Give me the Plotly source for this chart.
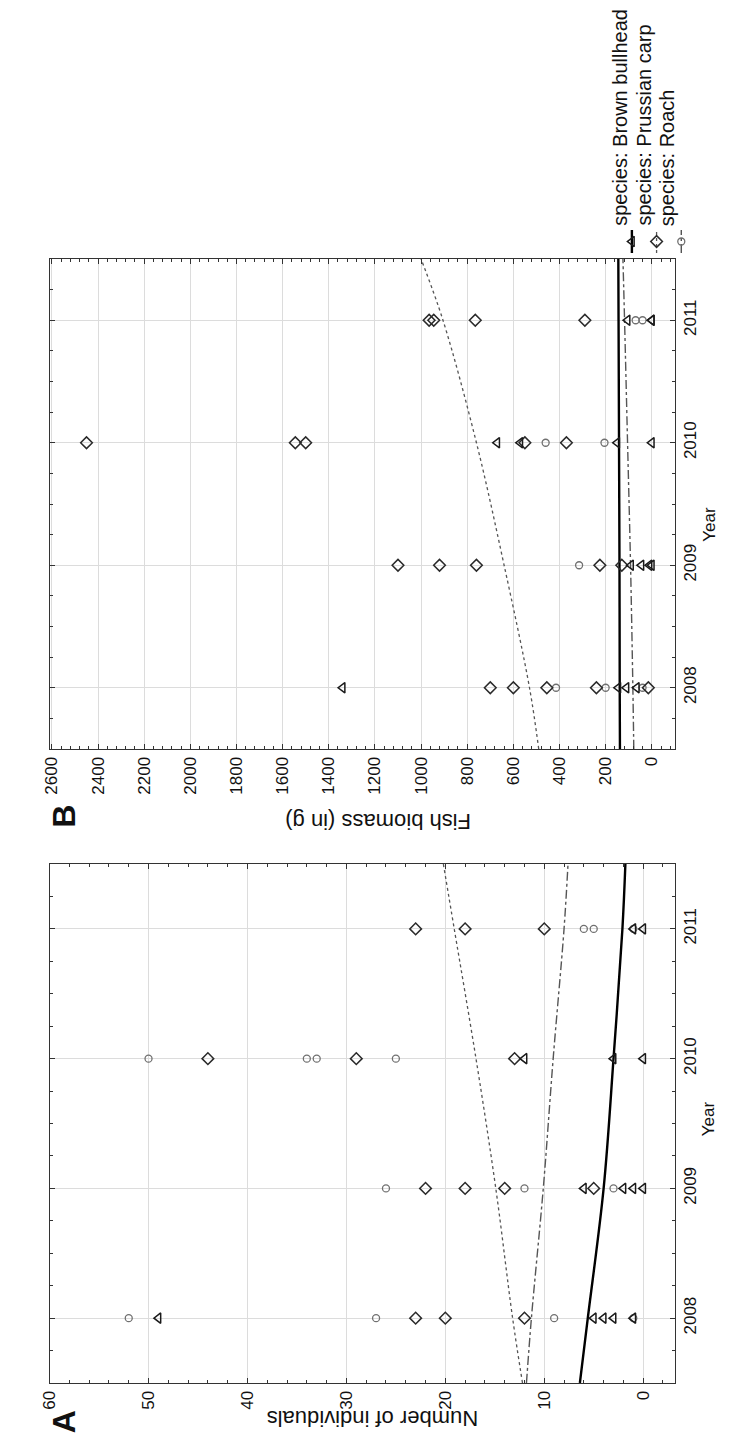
import plotly.graph_objects as go

W, H = 736, 1443

# ---------------- data ----------------
years = [2008, 2009, 2010, 2011]
fit_years = [2007.5, 2008, 2009, 2010, 2011, 2011.5]

# Panel A: number of individuals
roach_A = {2008: [52, 27, 9, 1], 2009: [26, 12, 3], 2010: [50, 34, 33, 25], 2011: [6, 5, 1]}
carp_A = {2008: [23, 20, 12], 2009: [22, 18, 14, 5], 2010: [44, 29, 13], 2011: [23, 18, 10]}
bull_A = {2008: [49, 5, 4, 3, 1], 2009: [6, 2, 1, 0], 2010: [12, 3, 0], 2011: [1, 0]}
fit_bull_A = [6.4, 5.6, 4.0, 3.0, 2.1, 1.8]
fit_carp_A = [12.2, 13.2, 14.9, 16.9, 19.1, 20.2]
fit_roach_A = [11.8, 11.3, 10.1, 9.1, 8.0, 7.6]

# Panel B: fish biomass (g)
roach_B = {2008: [415, 200, 40], 2009: [315], 2010: [460, 205], 2011: [70, 40]}
carp_B = {2008: [700, 600, 455, 240, 15], 2009: [1100, 920, 760, 225, 130],
          2010: [2450, 1545, 1500, 550, 370], 2011: [965, 945, 765, 290]}
bull_B = {2008: [1340, 145, 110, 65], 2009: [90, 45, 10, 0], 2010: [670, 570, 150, 0], 2011: [105, 0, 0]}
fit_bull_B = [138, 139, 140, 142, 144, 145]
fit_carp_B = [490, 530, 640, 760, 905, 1000]
fit_roach_B = [78, 82, 92, 105, 118, 125]

species = ["species: Brown bullhead", "species: Prussian carp", "species: Roach"]

# ---------------- styles ----------------
FONT = "Liberation Sans, Arial, sans-serif"
sty = {
    "bull": dict(symbol="triangle-left-open", size=9, color="#1a1a1a", lw=1.5,
                 line=dict(color="#000000", width=2.4, dash="solid")),
    "carp": dict(symbol="diamond-open", size=9, color="#2a2a2a", lw=1.5,
                 line=dict(color="#555555", width=1.3, dash="dot")),
    "roach": dict(symbol="circle-open", size=7, color="#707070", lw=1.3,
                  line=dict(color="#555555", width=1.4, dash="dashdot")),
}


def flat(d):
    xs, ys = [], []
    for y in years:
        for v in d[y]:
            xs.append(v)
            ys.append(y)
    return xs, ys


fig = go.Figure()


def add_panel(xa, ya, pts, fits):
    for key in ["roach", "carp", "bull"]:
        s = sty[key]
        fig.add_trace(go.Scatter(x=fits[key], y=fit_years, mode="lines", line=s["line"],
                                 line_shape="spline", xaxis=xa, yaxis=ya, showlegend=False,
                                 hoverinfo="skip"))
    for key in ["roach", "carp", "bull"]:
        s = sty[key]
        xs, ys = flat(pts[key])
        fig.add_trace(go.Scatter(x=xs, y=ys, mode="markers",
                                 marker=dict(symbol=s["symbol"], size=s["size"], color=s["color"],
                                             line=dict(color=s["color"], width=s["lw"])),
                                 xaxis=xa, yaxis=ya, showlegend=False))


add_panel("x", "y", {"roach": roach_B, "carp": carp_B, "bull": bull_B},
          {"roach": fit_roach_B, "carp": fit_carp_B, "bull": fit_bull_B})
add_panel("x2", "y2", {"roach": roach_A, "carp": carp_A, "bull": bull_A},
          {"roach": fit_roach_A, "carp": fit_carp_A, "bull": fit_bull_A})

# legend samples on a hidden axis
for i, key in enumerate(["bull", "carp", "roach"]):
    s = sty[key]
    fig.add_trace(go.Scatter(x=[i + 0.5, i + 0.5], y=[0.0, 1.0], mode="lines", line=s["line"],
                             xaxis="x3", yaxis="y3", showlegend=False, hoverinfo="skip"))
    fig.add_trace(go.Scatter(x=[i + 0.5], y=[0.5], mode="markers",
                             marker=dict(symbol=s["symbol"], size=s["size"], color=s["color"],
                                         line=dict(color=s["color"], width=s["lw"])),
                             xaxis="x3", yaxis="y3", showlegend=False, hoverinfo="skip"))

x_dom = [33 / W, 666 / W]
yB = [1 - 741 / H, 1 - 251 / H]
yA = [1 - 1375 / H, 1 - 856 / H]

common_val = dict(showline=True, linecolor="#333333", linewidth=1.2, mirror="allticks",
                  ticks="inside", ticklen=5, tickcolor="#333333", showgrid=True,
                  gridcolor="#dcdcdc", gridwidth=1, zeroline=False, tickangle=-90,
                  tickfont=dict(family=FONT, size=17, color="#111111"), side="bottom")
common_year = dict(showline=True, linecolor="#333333", linewidth=1.2, mirror="allticks",
                   ticks="inside", ticklen=5, tickcolor="#333333", showgrid=True,
                   gridcolor="#dcdcdc", gridwidth=1, zeroline=False, tickangle=-90,
                   tickfont=dict(family=FONT, size=17, color="#111111"), side="right",
                   range=[2007.5, 2011.5], tickvals=years, ticktext=[str(y) for y in years],
                   minor=dict(dtick=0.25, tick0=2007.5, ticks="inside", ticklen=3,
                              tickcolor="#333333", showgrid=False))

fig.update_layout(
    width=W, height=H, margin=dict(l=0, r=0, t=0, b=0),
    paper_bgcolor="white", plot_bgcolor="white", showlegend=False,
    xaxis=dict(domain=x_dom, anchor="y", range=[2610, -100], dtick=200, tick0=0,
               minor=dict(dtick=40, ticks="inside", ticklen=3, tickcolor="#333333", showgrid=False),
               **common_val),
    yaxis=dict(domain=yB, anchor="x", **common_year),
    xaxis2=dict(domain=x_dom, anchor="y2", range=[60, -3.2], dtick=10, tick0=0,
                minor=dict(dtick=2, ticks="inside", ticklen=3, tickcolor="#333333", showgrid=False),
                **common_val),
    yaxis2=dict(domain=yA, anchor="x2", **common_year),
    xaxis3=dict(domain=[610 / W, 685 / W], anchor="y3", range=[0, 3], visible=False),
    yaxis3=dict(domain=[1 - 245 / H, 1 - 222 / H], anchor="x3", range=[0, 1], visible=False),
)

ann = []
# panel letters
ann.append(dict(text="<b>B</b>", x=27 / W, y=1 - 808 / H, textangle=-90, font=dict(family=FONT, size=32)))
ann.append(dict(text="<b>A</b>", x=27 / W, y=1 - 1427 / H, textangle=-90, font=dict(family=FONT, size=32)))
# value-axis titles (upside down)
ann.append(dict(text="Fish biomass (in g)", x=366 / W, y=1 - 814 / H, textangle=180,
                font=dict(family=FONT, size=22)))
ann.append(dict(text="Number of individuals", x=360 / W, y=1 - 1425 / H, textangle=180,
                font=dict(family=FONT, size=22)))
# Year titles
ann.append(dict(text="Year", x=712 / W, y=1 - 516 / H, textangle=-90, font=dict(family=FONT, size=17)))
ann.append(dict(text="Year", x=712 / W, y=1 - 1130 / H, textangle=-90, font=dict(family=FONT, size=17)))
# legend texts
for i, name in enumerate(species):
    ann.append(dict(text=name, x=(624 + i * 24) / W, y=1 - 220 / H, yanchor="bottom",
                    textangle=-90, font=dict(family=FONT, size=20)))

for a in ann:
    a.setdefault("xref", "paper")
    a.setdefault("yref", "paper")
    a.setdefault("showarrow", False)
    a["font"]["color"] = "#111111"
    fig.add_annotation(**a)

fig.write_html("out.html")
